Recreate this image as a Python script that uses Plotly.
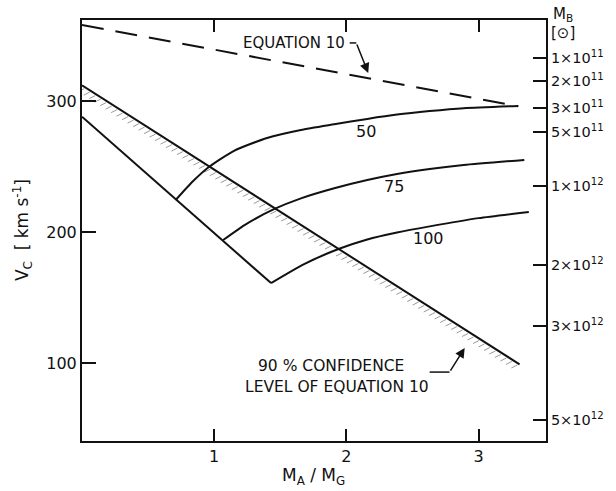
import numpy as np
import plotly.graph_objects as go

# ---- data ----
x_range = [0, 3.51]
y_range = [40.5, 361.8]

eq10_x = [0.0, 3.30]
eq10_v = [358.0, 296.0]

conf_x = [0.0, 3.31]
conf_v = [312.0, 99.0]

lower_x = [0.0, 1.43]
lower_v = [288.0, 161.0]

c50_x = [0.709, 0.835, 0.962, 1.15, 1.40, 1.656, 1.908, 2.158, 2.383, 2.63, 2.887, 3.30]
c50_v = [224.4, 238.3, 249.8, 262.0, 271.8, 277.9, 282.2, 286.3, 289.6, 292.3, 294.5, 296.2]

c75_x = [1.068, 1.23, 1.456, 1.656, 1.908, 2.158, 2.383, 2.63, 2.887, 3.346]
c75_v = [193.9, 205.3, 217.6, 225.7, 233.4, 239.7, 244.3, 248.1, 251.1, 255.0]

c100_x = [1.43, 1.68, 1.94, 2.158, 2.383, 2.63, 3.0, 3.38]
c100_v = [161.0, 175.5, 187.0, 194.3, 199.6, 204.3, 210.6, 215.3]

curve_labels = ["50", "75", "100"]
curve_label_x = [2.15, 2.36, 2.62]
curve_label_v = [277.0, 234.4, 195.4]

left_ticks = [100, 200, 300]
x_ticks = [1, 2, 3]

mb_labels = ["1×10<sup>11</sup>", "2×10<sup>11</sup>", "3×10<sup>11</sup>", "5×10<sup>11</sup>",
             "1×10<sup>12</sup>", "2×10<sup>12</sup>", "3×10<sup>12</sup>", "5×10<sup>12</sup>"]
mb_tick_v = [332.8, 315.3, 294.7, 276.3, 235.1, 174.8, 128.2, 56.5]

# ---- figure ----
W, H = 616, 491
ml, mr, mt, mb = 82, 66, 20, 50
pw, ph = W - ml - mr, H - mt - mb
px_x = pw / (x_range[1] - x_range[0])
px_y = ph / (y_range[1] - y_range[0])

FONT = "DejaVu Sans"
BLACK = "#111"
fig = go.Figure()

def line(xs, ys, dash="solid", width=2, color=BLACK):
    fig.add_trace(go.Scatter(x=xs, y=ys, mode="lines", showlegend=False, hoverinfo="skip",
                             line=dict(color=color, width=width, dash=dash,
                                       shape="spline" if len(xs) > 2 else "linear", smoothing=0.6)))

# hatching under the confidence line
hx, hy = [], []
n_h = int((conf_x[1] - conf_x[0]) * px_x / 5.5)
for t in np.linspace(0.005, 0.995, n_h):
    xx = conf_x[0] + t * (conf_x[1] - conf_x[0])
    vv = conf_v[0] + t * (conf_v[1] - conf_v[0])
    x0, y0 = xx, vv - 2.0 / px_y
    x1, y1 = xx - 6.0 / px_x, vv - 5.0 / px_y
    hx += [x1, x0, None]
    hy += [y1, y0, None]
fig.add_trace(go.Scatter(x=hx, y=hy, mode="lines", showlegend=False, hoverinfo="skip",
                         line=dict(color="#9a9a9a", width=1)))

line(eq10_x, eq10_v, dash="22px,12px", width=2)
line(conf_x, conf_v)
line(lower_x, lower_v)
line(c50_x, c50_v)
line(c75_x, c75_v)
line(c100_x, c100_v)

# right axis ticks (dummy trace on y2)
fig.add_trace(go.Scatter(x=[None], y=[None], yaxis="y2", showlegend=False))

for lab, lx, lv in zip(curve_labels, curve_label_x, curve_label_v):
    fig.add_annotation(x=lx, y=lv, text=lab, showarrow=False, font=dict(family=FONT, size=16, color=BLACK))

# EQUATION 10 label + arrow
fig.add_annotation(x=1.60, y=344.3, text="EQUATION 10", showarrow=False,
                   font=dict(family=FONT, size=15, color=BLACK))
line([2.025, 2.075], [344.3, 344.3], width=1.5)
fig.add_annotation(x=2.165, y=321.4, ax=2.075, ay=344.3, axref="x", ayref="y", xref="x", yref="y",
                   text="", showarrow=True, arrowhead=2, arrowsize=1.3, arrowwidth=1.5, arrowcolor=BLACK)

# 90% confidence label + arrow
fig.add_annotation(x=1.88, y=97.7, text="90 % CONFIDENCE", showarrow=False,
                   font=dict(family=FONT, size=15.5, color=BLACK))
fig.add_annotation(x=1.93, y=81.7, text="LEVEL OF EQUATION 10", showarrow=False,
                   font=dict(family=FONT, size=15.5, color=BLACK))
line([2.63, 2.78], [93.1, 93.1], width=1.5)
fig.add_annotation(x=2.895, y=111.5, ax=2.78, ay=93.1, axref="x", ayref="y", xref="x", yref="y",
                   text="", showarrow=True, arrowhead=2, arrowsize=1.3, arrowwidth=1.5, arrowcolor=BLACK)

# axis titles
fig.add_annotation(xref="paper", yref="paper", x=-0.128, y=0.50, xanchor="center", yanchor="middle",
                   textangle=-90, showarrow=False,
                   text="V<sub>C</sub>  [ km s<sup>-1</sup>]", font=dict(family=FONT, size=17, color=BLACK))
fig.add_annotation(xref="paper", yref="paper", x=0.498, y=-0.0855, xanchor="center", yanchor="middle",
                   showarrow=False,
                   text="M<sub>A</sub> / M<sub>G</sub>", font=dict(family=FONT, size=17, color=BLACK))
fig.add_annotation(xref="paper", yref="paper", x=1.036, y=1.012, xanchor="center", yanchor="middle",
                   showarrow=False,
                   text="M<sub>B</sub>", font=dict(family=FONT, size=15, color=BLACK))
fig.add_annotation(xref="paper", yref="paper", x=1.036, y=0.969, xanchor="center", yanchor="middle",
                   showarrow=False,
                   text="[⊙]", font=dict(family=FONT, size=15, color=BLACK))

fig.update_layout(
    width=W, height=H, margin=dict(l=ml, r=mr, t=mt, b=mb, pad=0),
    paper_bgcolor="white", plot_bgcolor="white", showlegend=False,
    font=dict(family=FONT, size=15, color=BLACK),
    xaxis=dict(range=x_range, tickvals=x_ticks, ticks="inside", ticklen=12, tickwidth=1.5,
               tickcolor=BLACK, showline=True, linecolor=BLACK, linewidth=2, mirror="ticks",
               showgrid=False, zeroline=False, tickfont=dict(size=16)),
    yaxis=dict(range=y_range, tickvals=left_ticks, ticks="inside", ticklen=14, tickwidth=1.5,
               tickcolor=BLACK, showline=True, linecolor=BLACK, linewidth=2, mirror=False,
               showgrid=False, zeroline=False, tickfont=dict(size=16)),
    yaxis2=dict(range=y_range, overlaying="y", side="right", tickvals=mb_tick_v, ticktext=mb_labels,
                ticks="inside", ticklen=13, tickwidth=1.5, tickcolor=BLACK, showline=True,
                linecolor=BLACK, linewidth=2, showgrid=False, zeroline=False, tickfont=dict(size=14.5)),
)

fig.write_html("out.html")
